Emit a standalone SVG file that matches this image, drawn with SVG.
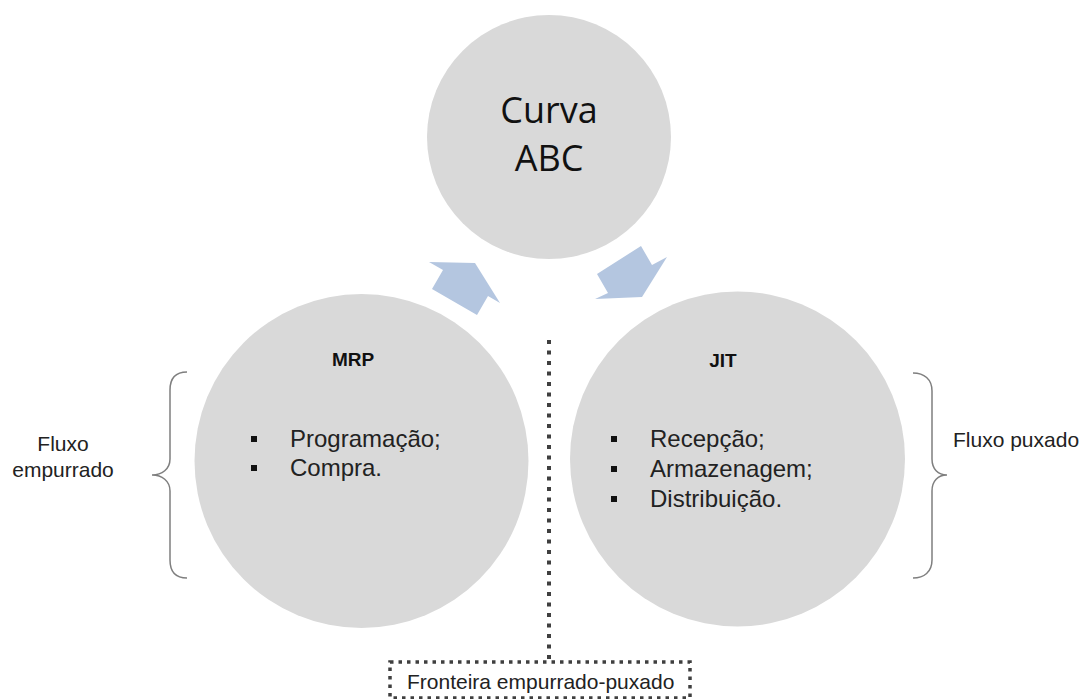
<svg xmlns="http://www.w3.org/2000/svg" width="1084" height="699" viewBox="0 0 1084 699">
  <style>
    .bubble { fill: #D9D9D9; }
    .block-arrow { fill: #B4C6E0; }
    .brace { fill: none; stroke: #7F7F7F; stroke-width: 1.5; }
    .dots { fill: none; stroke: #3F3F3F; }
    .title { font-family: "Open Sans", "Liberation Sans", sans-serif; font-size: 36px; fill: #111; text-anchor: middle; }
    .head { font-family: "Liberation Sans", Arial, sans-serif; font-size: 19px; font-weight: bold; fill: #111; text-anchor: middle; }
    .item { font-family: "Liberation Sans", Arial, sans-serif; font-size: 24px; fill: #222; }
    .note { font-family: "Liberation Sans", Arial, sans-serif; font-size: 21px; fill: #222; }
    .bullet { fill: #111; }
  </style>

  <rect width="1084" height="699" fill="#FFFFFF"/>

  <!-- Curva ABC -->
  <g id="curva-abc">
    <circle class="bubble" cx="549" cy="137" r="122"/>
    <text class="title" x="549" y="123">Curva</text>
    <text class="title" x="549" y="171">ABC</text>
  </g>

  <!-- MRP -->
  <g id="mrp">
    <circle class="bubble" cx="361.5" cy="461" r="167"/>
    <text class="head" x="353" y="366">MRP</text>
    <rect class="bullet" x="251" y="436" width="6" height="6"/>
    <rect class="bullet" x="251" y="465" width="6" height="6"/>
    <text class="item" x="290" y="447">Programação;</text>
    <text class="item" x="290" y="476">Compra.</text>
  </g>

  <!-- JIT -->
  <g id="jit">
    <circle class="bubble" cx="737.5" cy="459" r="167.5"/>
    <text class="head" x="723" y="367">JIT</text>
    <rect class="bullet" x="611" y="436" width="6" height="6"/>
    <rect class="bullet" x="611" y="466" width="6" height="6"/>
    <rect class="bullet" x="611" y="496" width="6" height="6"/>
    <text class="item" x="650" y="447">Recepção;</text>
    <text class="item" x="650" y="477">Armazenagem;</text>
    <text class="item" x="650" y="507">Distribuição.</text>
  </g>

  <!-- flow labels with braces -->
  <g id="fluxo-empurrado">
    <path class="brace" d="M187,372 C176,372 170,378 170,390 L170,459 C170,469 162,475 152,475 C162,475 170,481 170,491 L170,560 C170,572 176,578 187,578"/>
    <text class="note" x="63" y="451" text-anchor="middle">Fluxo</text>
    <text class="note" x="63" y="477" text-anchor="middle">empurrado</text>
  </g>
  <g id="fluxo-puxado">
    <path class="brace" d="M913,373 C924,373 932,379 932,391 L932,459 C932,469 938,475 947,475 C938,475 932,481 932,491 L932,560 C932,572 924,578 913,578"/>
    <text class="note" x="953" y="447">Fluxo puxado</text>
  </g>

  <!-- boundary label -->
  <g id="fronteira">
    <rect class="dots" x="390" y="662" width="300" height="36" stroke-width="3.5" stroke-dasharray="3.5 5"/>
    <text class="note" x="407" y="689">Fronteira empurrado-puxado</text>
  </g>

  <!-- connectors -->
  <g id="connectors">
    <polygon class="block-arrow" points="429,262 475,263 500,303 488,296 477,315 432,289 443,270"/>
    <polygon class="block-arrow" points="667,257 642,297 595,299 608,293 597,274 641,246 652,265"/>
    <line class="dots" x1="549" y1="340" x2="549" y2="662" stroke-width="4" stroke-dasharray="4 6.5"/>
  </g>
</svg>
